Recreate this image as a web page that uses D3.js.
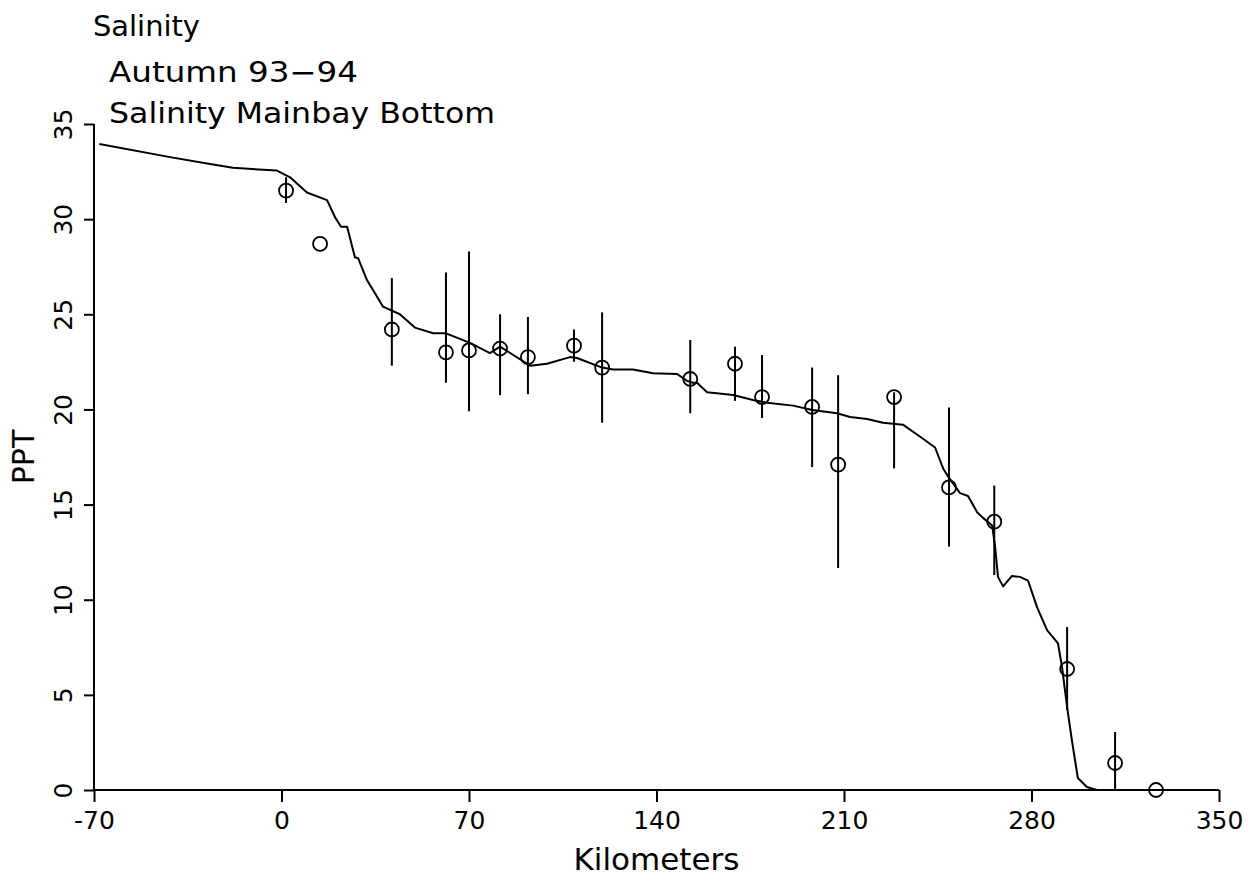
<!DOCTYPE html>
<html><head><meta charset="utf-8">
<script src="https://cdn.jsdelivr.net/npm/d3@7"></script>
<style>
html,body{margin:0;padding:0;background:#fff;}
svg{display:block;}
text{font-family:"DejaVu Sans",sans-serif;fill:#000;}
</style></head>
<body>
<svg id="chart" width="1252" height="882"></svg>
<script>
// ---- data ----
const titleLines = ["Salinity", "Autumn 93\u221294", "Salinity Mainbay Bottom"];
const xTicks = [-70, 0, 70, 140, 210, 280, 350];
const xTickLabels = ["-70", "0", "70", "140", "210", "280", "350"];
const yTicks = [0, 5, 10, 15, 20, 25, 30, 35];
const yTickLabels = ["0", "5", "10", "15", "20", "25", "30", "35"];
const xLabel = "Kilometers";
const yLabel = "PPT";

// model line (km, salinity)
const lineKm = [-68, -41.6, -26.7, -18.1, -1.7, 3.2, 9.5, 17.0, 20.0, 22.2, 24.5, 27.4, 28.6, 31.9, 34.9, 37.9, 44.2, 49.8, 56.6, 61.4,
  70.4, 77.8, 81.6, 92.8, 99.1, 107.7, 110.3, 119.7, 123.8, 131.2, 138.7, 147.7, 151.4, 153.6, 155.1, 158.9, 168.6, 176.0, 181.3, 191.0,
  198.1, 207.4, 212.3, 218.6, 224.6, 232.0, 239.1, 244.0, 247.0, 248.5, 253.3, 256.3, 259.7, 261.9, 265.3, 266.4, 267.5, 269.4, 272.7,
  275.7, 278.7, 282.1, 285.8, 289.9, 291.4, 293.3, 295.1, 297.3, 300.7, 304.4, 313];
const lineVal = [33.95, 33.26, 32.9, 32.7, 32.55, 32.2, 31.4, 31.0, 30.1, 29.6, 29.6, 28.0, 27.95, 26.8, 26.1, 25.4, 25.0, 24.3, 24.0, 24.0,
  23.5, 22.96, 23.3, 22.3, 22.4, 22.75, 22.7, 22.2, 22.1, 22.1, 21.9, 21.86, 21.5, 21.4, 21.4, 20.9, 20.76, 20.5, 20.35, 20.2,
  19.97, 19.8, 19.6, 19.5, 19.3, 19.2, 18.5, 18.0, 16.9, 16.55, 15.6, 15.45, 14.6, 14.3, 13.9, 12.8, 11.2, 10.7, 11.25,
  11.2, 11.0, 9.6, 8.4, 7.7, 6.46, 4.36, 2.6, 0.63, 0.16, 0, 0];

// observations with error bars
const obsKm   = [1.7, 14.4, 41.2, 61.4, 70.0, 81.6, 92.0, 109.2, 119.7, 152.6, 169.3, 179.4, 198.1, 207.8, 228.7, 249.2, 266.1, 293.3, 311.2, 326.5];
const obsVal  = [31.5, 28.7, 24.2, 23.0, 23.1, 23.2, 22.75, 23.35, 22.2, 21.6, 22.4, 20.65, 20.13, 17.1, 20.65, 15.9, 14.1, 6.36, 1.42, 0];
const obsHigh = [32.2, 28.7, 26.9, 27.2, 28.3, 25.0, 24.86, 24.2, 25.1, 23.65, 23.3, 22.86, 22.2, 21.8, 20.9, 20.1, 16.0, 8.57, 3.05, 0];
const obsLow  = [30.85, 28.7, 22.3, 21.4, 19.9, 20.75, 20.8, 22.5, 19.3, 19.8, 20.45, 19.55, 16.97, 11.67, 16.9, 12.8, 11.3, 4.2, 0, 0];

// ---- drawing ----
const svg = d3.select("#chart");
const mLeft = 94, mRight = 1219, mTop = 124, mBottom = 790;
const x = d3.scaleLinear().domain([-70, 350]).range([mLeft, mRight]);
const y = d3.scaleLinear().domain([0, 35]).range([mBottom, mTop]);

// titles
const tx = [93, 109, 109], ty = [36, 82, 123], tw = [107, 249, 386];
svg.selectAll("text.title").data(titleLines).join("text")
  .attr("class", "title")
  .attr("x", (d, i) => tx[i]).attr("y", (d, i) => ty[i])
  .attr("textLength", (d, i) => tw[i]).attr("lengthAdjust", "spacingAndGlyphs")
  .attr("font-size", 28).text(d => d);

// x axis
const xAxis = d3.axisBottom(x).tickValues(xTicks).tickSize(12).tickPadding(9)
  .tickFormat((d, i) => xTickLabels[i]);
const gx = svg.append("g").attr("transform", `translate(0,${mBottom})`).call(xAxis);
gx.select(".domain").attr("stroke-width", 2).attr("d", `M${mLeft},0H${mRight}`);
gx.selectAll(".tick line").attr("stroke-width", 2);
gx.selectAll(".tick text").attr("font-size", 25).attr("font-family", "DejaVu Sans");

// y axis
const yAxis = d3.axisLeft(y).tickValues(yTicks).tickSize(10).tickPadding(0)
  .tickFormat((d, i) => yTickLabels[i]);
const gy = svg.append("g").attr("transform", `translate(${mLeft},0)`).call(yAxis);
gy.select(".domain").attr("stroke-width", 2).attr("d", `M0,${mTop}V${mBottom}`);
gy.selectAll(".tick line").attr("stroke-width", 2);
gy.selectAll(".tick text")
  .attr("font-size", 25).attr("font-family", "DejaVu Sans")
  .attr("text-anchor", "middle").attr("x", null).attr("dy", null)
  .attr("transform", "translate(-31,0) rotate(-90)")
  .attr("y", 9);

// axis labels
svg.append("text").attr("x", (mLeft + mRight) / 2).attr("y", 870)
  .attr("text-anchor", "middle").attr("font-size", 31).text(xLabel);
svg.append("text").attr("transform", `translate(34,${(mTop + mBottom) / 2}) rotate(-90)`)
  .attr("text-anchor", "middle").attr("font-size", 30).text(yLabel);

// model line
const lineData = lineKm.map((k, i) => [k, lineVal[i]]);
svg.append("path").datum(lineData)
  .attr("fill", "none").attr("stroke", "#000").attr("stroke-width", 2)
  .attr("stroke-linejoin", "round")
  .attr("d", d3.line().x(d => x(d[0])).y(d => y(d[1])));

// error bars
const obs = obsKm.map((k, i) => ({k, v: obsVal[i], hi: obsHigh[i], lo: obsLow[i]}));
svg.selectAll("line.err").data(obs).join("line").attr("class", "err")
  .attr("x1", d => x(d.k)).attr("x2", d => x(d.k))
  .attr("y1", d => y(d.hi)).attr("y2", d => y(d.lo))
  .attr("stroke", "#000").attr("stroke-width", 2);

// circles
svg.selectAll("circle.obs").data(obs).join("circle").attr("class", "obs")
  .attr("cx", d => x(d.k)).attr("cy", d => y(d.v)).attr("r", 7)
  .attr("fill", "none").attr("stroke", "#000").attr("stroke-width", 1.8);
</script>
</body></html>
